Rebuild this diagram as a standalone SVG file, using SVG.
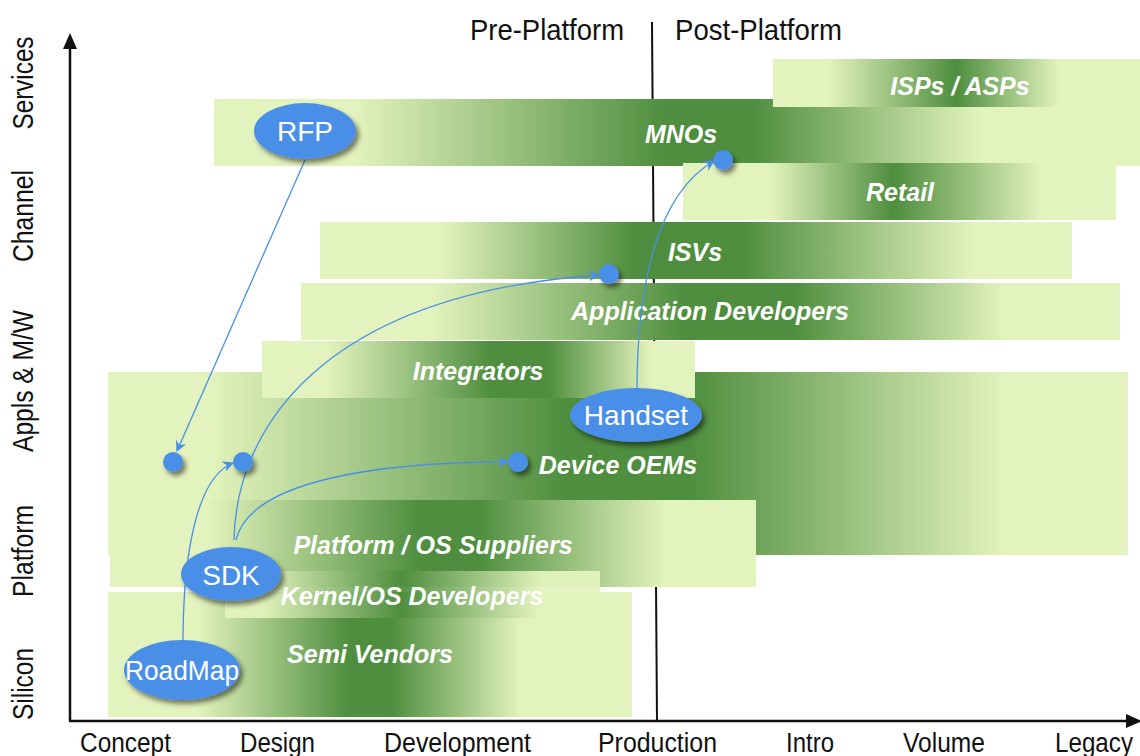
<svg xmlns="http://www.w3.org/2000/svg" width="1140" height="756" viewBox="0 0 1140 756">
<style>
.ax{font-family:"Liberation Sans",Arial,sans-serif;fill:#111;}
.bl{font-family:"Liberation Sans",Arial,sans-serif;font-weight:bold;font-style:italic;font-size:25px;fill:#fff;text-anchor:middle;}
.el{fill:#4a8fe7;filter:url(#sh);}
.et{font-family:"Liberation Sans",Arial,sans-serif;font-size:28px;fill:#fff;text-anchor:middle;}
.dot{fill:#4a8fe7;filter:url(#sh);}
.cn{fill:none;stroke:#4a8fe7;stroke-width:1.3;}
</style>
<defs>
<filter id="sh" x="-30%" y="-30%" width="170%" height="180%"><feDropShadow dx="3" dy="4" stdDeviation="2.5" flood-color="#000" flood-opacity="0.5"/></filter>
<marker id="ah" viewBox="0 0 10 10" refX="9" refY="5" markerWidth="11" markerHeight="11" markerUnits="userSpaceOnUse" orient="auto"><path d="M0,0 L10,5 L0,10 L3,5 z" fill="#4a8fe7"/></marker>
<linearGradient id="gMNO"><stop offset="0" stop-color="#e3f3bd"/><stop offset="0.15" stop-color="#e3f3bd"/><stop offset="0.49" stop-color="#4e8e3e"/><stop offset="0.58" stop-color="#4e8e3e"/><stop offset="0.83" stop-color="#e3f3bd"/><stop offset="1" stop-color="#e3f3bd"/></linearGradient>
<linearGradient id="gISP"><stop offset="0" stop-color="#e3f3bd"/><stop offset="0.15" stop-color="#e3f3bd"/><stop offset="0.5" stop-color="#4e8e3e"/><stop offset="0.78" stop-color="#e3f3bd"/><stop offset="1" stop-color="#e3f3bd"/></linearGradient>
<linearGradient id="gRET"><stop offset="0" stop-color="#e3f3bd"/><stop offset="0.2" stop-color="#e3f3bd"/><stop offset="0.485" stop-color="#4e8e3e"/><stop offset="0.83" stop-color="#e3f3bd"/><stop offset="1" stop-color="#e3f3bd"/></linearGradient>
<linearGradient id="gISV"><stop offset="0" stop-color="#e3f3bd"/><stop offset="0.16" stop-color="#e3f3bd"/><stop offset="0.42" stop-color="#4e8e3e"/><stop offset="0.56" stop-color="#4e8e3e"/><stop offset="0.87" stop-color="#e3f3bd"/><stop offset="1" stop-color="#e3f3bd"/></linearGradient>
<linearGradient id="gAPP"><stop offset="0" stop-color="#e3f3bd"/><stop offset="0.16" stop-color="#e3f3bd"/><stop offset="0.47" stop-color="#4e8e3e"/><stop offset="0.6" stop-color="#4e8e3e"/><stop offset="0.86" stop-color="#e3f3bd"/><stop offset="1" stop-color="#e3f3bd"/></linearGradient>
<linearGradient id="gINT"><stop offset="0" stop-color="#e3f3bd"/><stop offset="0.15" stop-color="#e3f3bd"/><stop offset="0.53" stop-color="#4e8e3e"/><stop offset="0.66" stop-color="#4e8e3e"/><stop offset="0.9" stop-color="#e3f3bd"/><stop offset="1" stop-color="#e3f3bd"/></linearGradient>
<linearGradient id="gOEM"><stop offset="0" stop-color="#e3f3bd"/><stop offset="0.1" stop-color="#e3f3bd"/><stop offset="0.45" stop-color="#4e8e3e"/><stop offset="0.57" stop-color="#4e8e3e"/><stop offset="0.88" stop-color="#e3f3bd"/><stop offset="1" stop-color="#e3f3bd"/></linearGradient>
<linearGradient id="gPLT"><stop offset="0" stop-color="#e3f3bd"/><stop offset="0.15" stop-color="#e3f3bd"/><stop offset="0.48" stop-color="#4e8e3e"/><stop offset="0.57" stop-color="#4e8e3e"/><stop offset="0.86" stop-color="#e3f3bd"/><stop offset="1" stop-color="#e3f3bd"/></linearGradient>
<linearGradient id="gKER"><stop offset="0" stop-color="#e3f3bd"/><stop offset="0.1" stop-color="#e3f3bd"/><stop offset="0.47" stop-color="#4e8e3e"/><stop offset="0.84" stop-color="#e3f3bd"/><stop offset="1" stop-color="#e3f3bd"/></linearGradient>
<linearGradient id="gSEM"><stop offset="0" stop-color="#e3f3bd"/><stop offset="0.17" stop-color="#e3f3bd"/><stop offset="0.46" stop-color="#4e8e3e"/><stop offset="0.54" stop-color="#4e8e3e"/><stop offset="0.79" stop-color="#e3f3bd"/><stop offset="1" stop-color="#e3f3bd"/></linearGradient>
</defs>
<rect width="1140" height="756" fill="#fff"/>

<g id="axes">
<line x1="652" y1="22" x2="657" y2="721" stroke="#111" stroke-width="2"/>
<line x1="70" y1="46" x2="70" y2="721" stroke="#111" stroke-width="2.5"/>
<polygon points="70,33 63,49 77,49" fill="#111"/>
<line x1="69" y1="721" x2="1128" y2="721" stroke="#111" stroke-width="2.5"/>
<polygon points="1142,721 1126,714 1126,728" fill="#111"/>
<text class="ax" x="547" y="40" font-size="29" text-anchor="middle" textLength="154" lengthAdjust="spacingAndGlyphs">Pre-Platform</text>
<text class="ax" x="675" y="40" font-size="29" textLength="167" lengthAdjust="spacingAndGlyphs">Post-Platform</text>
<text class="ax" x="80" y="752" font-size="27" textLength="91" lengthAdjust="spacingAndGlyphs">Concept</text>
<text class="ax" x="240" y="752" font-size="27" textLength="75" lengthAdjust="spacingAndGlyphs">Design</text>
<text class="ax" x="384" y="752" font-size="27" textLength="147" lengthAdjust="spacingAndGlyphs">Development</text>
<text class="ax" x="598" y="752" font-size="27" textLength="119" lengthAdjust="spacingAndGlyphs">Production</text>
<text class="ax" x="786" y="752" font-size="27" textLength="48" lengthAdjust="spacingAndGlyphs">Intro</text>
<text class="ax" x="903" y="752" font-size="27" textLength="82" lengthAdjust="spacingAndGlyphs">Volume</text>
<text class="ax" x="1055" y="752" font-size="27" textLength="78" lengthAdjust="spacingAndGlyphs">Legacy</text>
<text class="ax" transform="translate(33,83) rotate(-90)" font-size="30" text-anchor="middle" textLength="93" lengthAdjust="spacingAndGlyphs">Services</text>
<text class="ax" transform="translate(33,216) rotate(-90)" font-size="30" text-anchor="middle" textLength="92" lengthAdjust="spacingAndGlyphs">Channel</text>
<text class="ax" transform="translate(33,381) rotate(-90)" font-size="30" text-anchor="middle" textLength="142" lengthAdjust="spacingAndGlyphs">Appls &amp; M/W</text>
<text class="ax" transform="translate(33,551) rotate(-90)" font-size="30" text-anchor="middle" textLength="92" lengthAdjust="spacingAndGlyphs">Platform</text>
<text class="ax" transform="translate(33,684) rotate(-90)" font-size="30" text-anchor="middle" textLength="72" lengthAdjust="spacingAndGlyphs">Silicon</text>
</g>

<g id="band-mnos"><rect x="214" y="99" width="926" height="67" fill="url(#gMNO)"/><text class="bl" x="681" y="143">MNOs</text></g>
<g id="band-isps"><rect x="773" y="59" width="367" height="48" fill="url(#gISP)"/><text class="bl" x="960" y="95">ISPs / ASPs</text></g>
<g id="band-retail"><rect x="683" y="163" width="433" height="57" fill="url(#gRET)"/><text class="bl" x="900" y="201">Retail</text></g>
<g id="band-isvs"><rect x="320" y="222" width="752" height="57" fill="url(#gISV)"/><text class="bl" x="695" y="261">ISVs</text></g>
<g id="band-appdev"><rect x="301" y="283" width="819" height="57" fill="url(#gAPP)"/><text class="bl" x="710" y="320">Application Developers</text></g>
<g id="band-oems"><rect x="108" y="372" width="1020" height="183" fill="url(#gOEM)"/><text class="bl" x="618" y="474">Device OEMs</text></g>
<g id="band-integrators"><rect x="262" y="341" width="433" height="57" fill="url(#gINT)"/><text class="bl" x="478" y="380">Integrators</text></g>
<g id="band-platform"><rect x="110" y="500" width="646" height="87" fill="url(#gPLT)"/><text class="bl" x="433" y="554">Platform / OS Suppliers</text></g>
<g id="band-semi"><rect x="108" y="592" width="524" height="125" fill="url(#gSEM)"/><text class="bl" x="370" y="663">Semi Vendors</text></g>
<g id="band-kernel"><rect x="225" y="571" width="375" height="47" fill="url(#gKER)" opacity="0.95"/><text class="bl" x="412" y="605">Kernel/OS Developers</text></g>

<g id="connectors">
<path class="cn" d="M305,160 L177,451" marker-end="url(#ah)"/>
<path class="cn" d="M183,643 C183,560 195,478 233,463" marker-end="url(#ah)"/>
<path class="cn" d="M234,540 C236,430 320,295 599,275" marker-end="url(#ah)"/>
<path class="cn" d="M236,540 C250,480 380,462 508,462" marker-end="url(#ah)"/>
<path class="cn" d="M637,390 C637,290 655,195 714,161" marker-end="url(#ah)"/>
</g>

<g id="dot-rfp-target"><circle class="dot" cx="173" cy="462" r="10"/></g>
<g id="dot-sdk-design"><circle class="dot" cx="243" cy="462" r="10"/></g>
<g id="dot-oem"><circle class="dot" cx="518" cy="462" r="10"/></g>
<g id="dot-isv"><circle class="dot" cx="609" cy="274" r="10"/></g>
<g id="dot-mno"><circle class="dot" cx="723" cy="160" r="10"/></g>

<g id="node-rfp"><ellipse class="el" cx="305" cy="131" rx="51" ry="28"/><text class="et" x="305" y="141">RFP</text></g>
<g id="node-handset"><ellipse class="el" cx="636" cy="415" rx="66" ry="27"/><text class="et" x="636" y="425">Handset</text></g>
<g id="node-sdk"><ellipse class="el" cx="231" cy="574" rx="50" ry="27"/><text class="et" x="231" y="585">SDK</text></g>
<g id="node-roadmap"><ellipse class="el" cx="182" cy="670" rx="58" ry="30"/><text class="et" x="182" y="680" font-size="27" textLength="114" lengthAdjust="spacingAndGlyphs">RoadMap</text></g>
</svg>
